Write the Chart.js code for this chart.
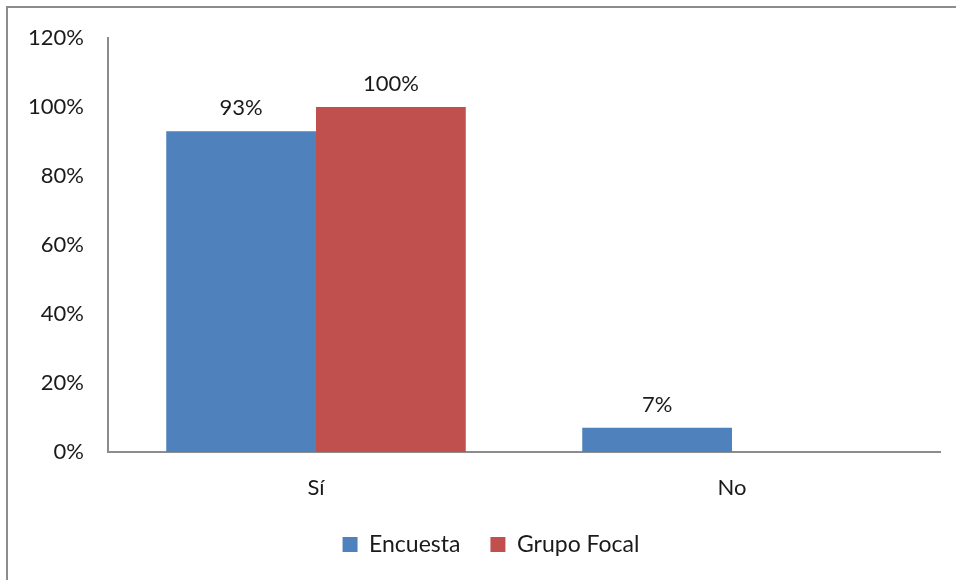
<!DOCTYPE html>
<html>
<head>
<meta charset="utf-8">
<script src="https://cdn.jsdelivr.net/npm/chart.js@4/dist/chart.umd.min.js"></script>
<style>
  html, body { margin: 0; padding: 0; background: #fff; overflow: hidden; }
  #wrap { position: relative; width: 956px; height: 580px; }
  #frame { position: absolute; left: 6px; top: 6px; width: 1000px; height: 1000px; border: 2px solid #8c8c8c; box-sizing: border-box; }
  canvas { position: absolute; left: 0; top: 0; }
</style>
</head>
<body>
<div id="wrap">
  <div id="frame"></div>
  <canvas id="myChart" width="956" height="580"></canvas>
</div>
<script>
/* datos */
const categorias = ['Sí', 'No'];
const encuesta = [93, 7];
const grupoFocal = [100, 0];
const ticksY = [0, 20, 40, 60, 80, 100, 120];

const FONT = 'Lato, "Open Sans", sans-serif';

// etiquetas encima de las barras (sin plugin externo)
const etiquetas = {
    id: 'etiquetas',
    afterLayout(chart) {
        // la leyenda va centrada en el marco, un poco a la derecha
        chart.legend.left += 21;
        chart.legend.right += 21;
    },
    afterDatasetsDraw(chart) {
        const ctx = chart.ctx;
        ctx.save();
        ctx.font = '22px ' + FONT;
        ctx.fillStyle = '#1a1a1a';
        ctx.textAlign = 'center';
        ctx.textBaseline = 'bottom';
        chart.data.datasets.forEach((ds, i) => {
            chart.getDatasetMeta(i).data.forEach((bar, j) => {
                if (ds.data[j] > 0) {
                    ctx.fillText(ds.data[j] + '%', bar.x, bar.y - 12);
                }
            });
        });
        ctx.restore();
    }
};

const chartArea = document.getElementById('myChart').getContext('2d');
new Chart(chartArea, {
    type: 'bar',
    data: {
        labels: categorias,
        datasets: [{
            label: 'Encuesta',
            data: encuesta,
            backgroundColor: '#4F81BD'
        }, {
            label: 'Grupo Focal',
            data: grupoFocal,
            backgroundColor: '#C0504D'
        }]
    },
    options: {
        responsive: false,
        animation: false,
        layout: { padding: { top: 38, right: 16, left: 0, bottom: 14 } },
        datasets: {
            bar: { categoryPercentage: 0.72, barPercentage: 1.0 }
        },
        plugins: {
            legend: {
                position: 'bottom',
                labels: {
                    font: { family: FONT, size: 23 },
                    color: '#1a1a1a',
                    boxWidth: 15,
                    boxHeight: 15,
                    padding: 30
                }
            },
            tooltip: { enabled: false }
        },
        scales: {
            x: {
                grid: { display: false, drawTicks: false },
                border: { color: '#8c8c8c', width: 2 },
                ticks: { font: { family: FONT, size: 22 }, color: '#1a1a1a', padding: 23 },
                afterFit: (scale) => { scale.height = 51; }
            },
            y: {
                min: 0,
                max: 120,
                afterBuildTicks: (scale) => { scale.ticks = ticksY.map(v => ({ value: v })); },
                grid: { display: false, drawTicks: false },
                border: { color: '#8c8c8c', width: 2 },
                ticks: {
                    font: { family: FONT, size: 22 },
                    color: '#1a1a1a',
                    padding: 24,
                    callback: (v) => v + '%'
                },
                afterFit: (scale) => { scale.width = 108; }
            }
        }
    },
    plugins: [etiquetas]
});
</script>
</body>
</html>
